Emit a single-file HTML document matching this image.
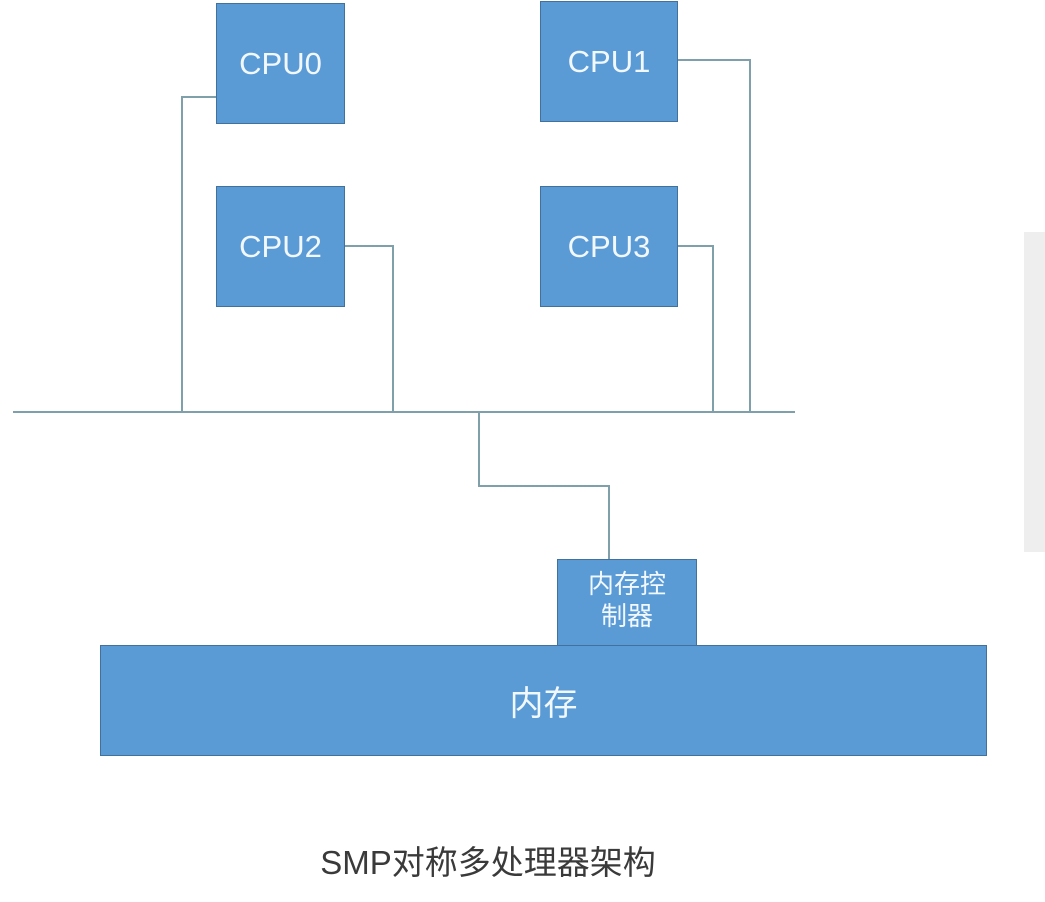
<!DOCTYPE html>
<html><head><meta charset="utf-8"><style>
html,body{margin:0;padding:0;background:#fff;}
body{width:1045px;height:902px;position:relative;overflow:hidden;font-family:"Liberation Sans","Noto Sans CJK SC",sans-serif;}
.b{position:absolute;background:#5b9bd5;border:1.5px solid #41719c;box-sizing:border-box;color:#f2f8ff;display:flex;align-items:center;justify-content:center;text-align:center;}
.cpu{font-size:31px;}
</style></head><body>
<div style="position:absolute;left:1024px;top:232px;width:21px;height:320px;background:#eeeeee;"></div>
<svg width="1045" height="902" style="position:absolute;left:0;top:0" fill="none" stroke="#7f9faa" stroke-width="2">
<polyline points="13,412 795,412"/>
<polyline points="217,97 182,97 182,412"/>
<polyline points="678,60 750,60 750,412"/>
<polyline points="344,246 393,246 393,412"/>
<polyline points="678,246 713,246 713,412"/>
<polyline points="479,412 479,486 609,486 609,560"/>
</svg>
<div class="b cpu" style="left:216px;top:3px;width:129px;height:121px;">CPU0</div>
<div class="b cpu" style="left:540px;top:1px;width:138px;height:121px;">CPU1</div>
<div class="b cpu" style="left:216px;top:186px;width:129px;height:121px;">CPU2</div>
<div class="b cpu" style="left:540px;top:186px;width:138px;height:121px;">CPU3</div>
<div class="b" style="left:557px;top:559px;width:140px;height:88px;font-size:26px;line-height:32px;padding-bottom:6px;">内存控<br>制器</div>
<div class="b" style="left:100px;top:645px;width:887px;height:111px;font-size:34px;">内存</div>
<div style="position:absolute;left:288px;top:836px;width:400px;text-align:center;font-size:33px;color:#3a3a3a;white-space:nowrap;">SMP对称多处理器架构</div>
</body></html>
